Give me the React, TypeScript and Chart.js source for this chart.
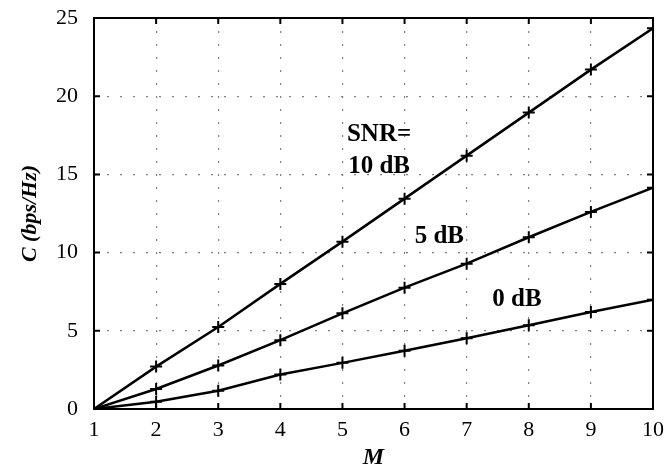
import React, { useEffect, useRef } from "react";
import { Chart, registerables } from "chart.js";

Chart.register(...registerables);

const mValues = [1, 2, 3, 4, 5, 6, 7, 8, 9, 10];
const snr10dB = [0, 2.71, 5.24, 8.0, 10.7, 13.45, 16.2, 18.95, 21.7, 24.35];
const snr5dB = [0, 1.28, 2.78, 4.4, 6.12, 7.76, 9.29, 10.98, 12.6, 14.15];
const snr0dB = [0, 0.47, 1.17, 2.2, 2.95, 3.72, 4.53, 5.36, 6.2, 6.99];
const xTicks = [1, 2, 3, 4, 5, 6, 7, 8, 9, 10];
const yTicks = [0, 5, 10, 15, 20, 25];

const annotations = [
  { text: "SNR=", x: 5.59, y: 17.56 },
  { text: "10 dB", x: 5.59, y: 15.5 },
  { text: "5 dB", x: 6.56, y: 11.03 },
  { text: "0 dB", x: 7.81, y: 7.0 },
];

const SERIF = "'Liberation Serif', 'DejaVu Serif', serif";

const framePlugin = {
  id: "frame",
  afterDraw(chart: any) {
    const { ctx, chartArea: a, scales } = chart;
    const xs = scales.x;
    const ys = scales.y;
    ctx.save();
    ctx.setLineDash([]);
    ctx.strokeStyle = "#000";
    ctx.lineWidth = 2;
    ctx.strokeRect(a.left, a.top, a.right - a.left, a.bottom - a.top);
    const t = 6;
    ctx.beginPath();
    xTicks.forEach((v) => {
      const px = xs.getPixelForValue(v);
      ctx.moveTo(px, a.bottom);
      ctx.lineTo(px, a.bottom - t);
      ctx.moveTo(px, a.top);
      ctx.lineTo(px, a.top + t);
    });
    yTicks.forEach((v) => {
      const py = ys.getPixelForValue(v);
      ctx.moveTo(a.left, py);
      ctx.lineTo(a.left + t, py);
      ctx.moveTo(a.right, py);
      ctx.lineTo(a.right - t, py);
    });
    ctx.stroke();
    ctx.fillStyle = "#000";
    ctx.font = `bold 25px ${SERIF}`;
    ctx.textAlign = "center";
    ctx.textBaseline = "middle";
    annotations.forEach((an) => {
      ctx.fillText(an.text, xs.getPixelForValue(an.x), ys.getPixelForValue(an.y));
    });
    ctx.restore();
  },
};

export default function App() {
  const ref = useRef<HTMLCanvasElement>(null);
  useEffect(() => {
    if (!ref.current) return;
    const mk = (label: string, data: number[]) => ({
      label,
      data: mValues.map((m, i) => ({ x: m, y: data[i] })),
      borderColor: "#000",
      backgroundColor: "#000",
      borderWidth: 2.5,
      pointStyle: "cross",
      pointRadius: 6,
      pointBorderWidth: 2,
      pointBorderColor: "#000",
      tension: 0,
    });
    const chart = new Chart(ref.current, {
      type: "line",
      data: {
        datasets: [mk("10 dB", snr10dB), mk("5 dB", snr5dB), mk("0 dB", snr0dB)],
      },
      options: {
        animation: false,
        responsive: false,
        maintainAspectRatio: false,
        layout: { padding: { left: 0, right: 12, top: 18, bottom: 0 } },
        plugins: { legend: { display: false }, tooltip: { enabled: false } },
        scales: {
          x: {
            type: "linear",
            min: 1,
            max: 10,
            afterBuildTicks: (s: any) => {
              s.ticks = xTicks.map((v) => ({ value: v }));
            },
            afterFit: (s: any) => {
              s.height = 66;
              s.paddingLeft = 0;
              s.paddingRight = 0;
            },
            border: { display: false, dash: [2, 11] },
            grid: {
              color: "#808080",
              lineWidth: 1.2,
              drawTicks: false,
            },
            ticks: {
              color: "#000",
              font: { family: SERIF, size: 22 },
              padding: 8,
              maxRotation: 0,
            },
            title: {
              display: true,
              text: "M",
              color: "#000",
              font: { family: SERIF, size: 24, weight: "bold", style: "italic" },
              padding: { top: 0, bottom: 3 },
            },
          },
          y: {
            type: "linear",
            min: 0,
            max: 25,
            afterBuildTicks: (s: any) => {
              s.ticks = yTicks.map((v) => ({ value: v }));
            },
            afterFit: (s: any) => {
              s.width = 94;
              s.paddingTop = 0;
              s.paddingBottom = 0;
            },
            border: { display: false, dash: [2, 11] },
            grid: {
              color: "#808080",
              lineWidth: 1.2,
              drawTicks: false,
            },
            ticks: {
              color: "#000",
              font: { family: SERIF, size: 22 },
              padding: 16,
            },
            title: {
              display: true,
              text: "C (bps/Hz)",
              color: "#000",
              font: { family: SERIF, size: 22, weight: "bold", style: "italic" },
              padding: { top: 17, bottom: 0 },
            },
          },
        },
      },
      plugins: [framePlugin],
    } as any);
    return () => chart.destroy();
  }, []);
  return (
    <div style={{ position: "fixed", left: 0, top: 0, width: 665, height: 475, background: "#fff" }}>
      <canvas ref={ref} width={665} height={475} style={{ display: "block" }} />
    </div>
  );
}
